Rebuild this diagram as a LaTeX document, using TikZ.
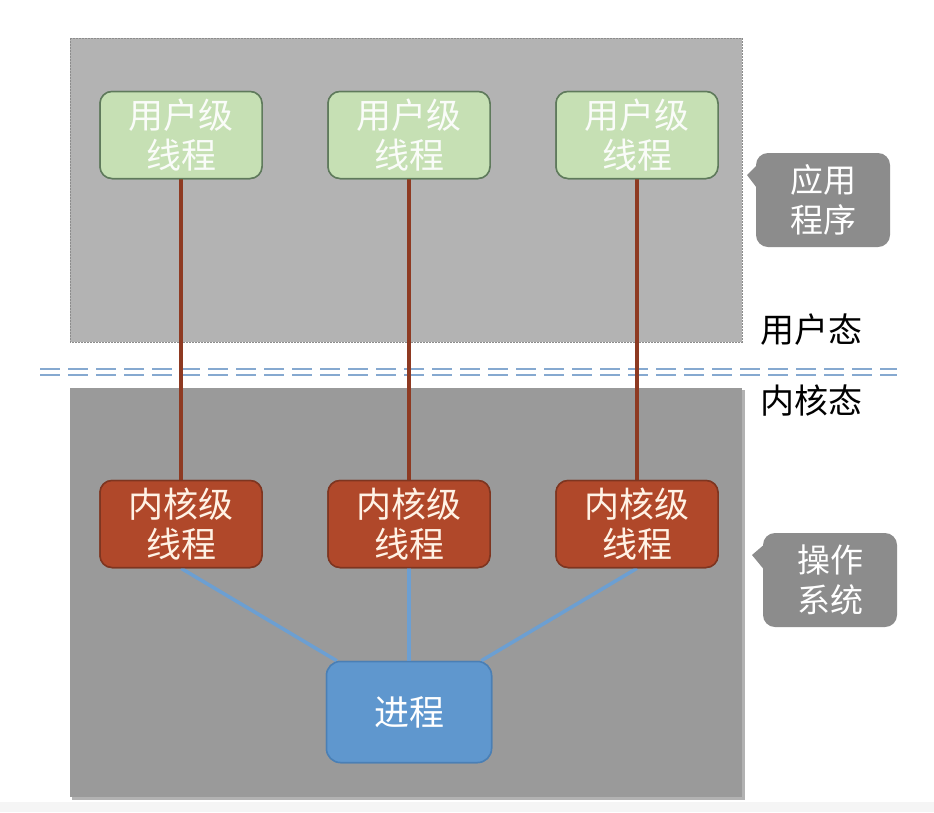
\documentclass[tikz,border=0pt]{standalone}
\usepackage{fontspec}
\setmainfont{Noto Sans CJK SC}
\usetikzlibrary{calc}
\definecolor{upgray}{HTML}{B3B3B3}
\definecolor{lowgray}{HTML}{9A9A9A}
\definecolor{ugreen}{HTML}{C6E0B4}
\definecolor{ugreenb}{HTML}{5F7A5C}
\definecolor{kred}{HTML}{B0482A}
\definecolor{kredb}{HTML}{7E3520}
\definecolor{pblue}{HTML}{5F97CE}
\definecolor{pblueb}{HTML}{4A7FB5}
\definecolor{brownline}{HTML}{8E3A22}
\definecolor{blueline}{HTML}{6C9FD2}
\definecolor{callgray}{HTML}{8C8C8C}
\definecolor{dashblue}{HTML}{86A9D0}
\tikzset{
  thread/.style={rounded corners=12pt, minimum width=162pt, minimum height=87pt,
    align=center, inner sep=0pt, font=\fontsize{35}{40}\selectfont, line width=1.5pt},
  userbox/.style={thread, fill=ugreen, draw=ugreenb, text=white!92!ugreen},
  kernbox/.style={thread, fill=kred, draw=kredb, text=white!90!orange},
  procbox/.style={rounded corners=14pt, minimum width=165pt, minimum height=101pt,
    align=center, fill=pblue, draw=pblueb, line width=1.5pt, text=white,
    font=\fontsize{35}{40}\selectfont},
  callbox/.style={rounded corners=12pt, fill=callgray, text=white, align=center,
    inner sep=0pt, minimum width=134pt, minimum height=94pt,
    font=\fontsize{33}{40}\selectfont},
  modelabel/.style={text=black, font=\fontsize{34}{38}\selectfont, inner sep=0pt},
  uline/.style={brownline, line width=3.5pt},
  kline/.style={blueline, line width=3.5pt},
}
\begin{document}
\begin{tikzpicture}[x=1pt,y=-1pt]
\useasboundingbox (0,0) rectangle (934,812);
\fill[white] (0,0) rectangle (934,812);
\fill[black!4] (0,802) rectangle (934,812);
% regions
\fill[upgray] (70,38) rectangle (742,342);
\draw[black!45, dashed, dash pattern=on 2pt off 1pt, line width=0.8pt] (70,38) rectangle (742,342);
\fill[black!30] (72,390) rectangle (745,800);
\fill[lowgray] (70,388) rectangle (742,797);
% dashed separator
\coordinate (dl) at (40,369);
\coordinate (dr) at (897,369);
\draw[dashblue, line width=2.4pt, dash pattern=on 20pt off 8pt] (dl) -- (dr);
\draw[dashblue, line width=2.4pt, dash pattern=on 20pt off 8pt] ($(dl)+(0,6)$) -- ($(dr)+(0,6)$);
% user threads
\node[userbox] (u1) at (181,135) {用户级\\线程};
\node[userbox] (u2) at (409,135) {用户级\\线程};
\node[userbox] (u3) at (637,135) {用户级\\线程};
% kernel threads
\node[kernbox] (k1) at (181,524) {内核级\\线程};
\node[kernbox] (k2) at (409,524) {内核级\\线程};
\node[kernbox] (k3) at (637,524) {内核级\\线程};
% process
\node[procbox] (p) at (409,712) {进程};
% connectors
\draw[uline] (u1.south) -- (k1.north);
\draw[uline] (u2.south) -- (k2.north);
\draw[uline] (u3.south) -- (k3.north);
\draw[kline] (k1.south) -- ($(p.north west)+(11,0)$);
\draw[kline] (k2.south) -- (p.north);
\draw[kline] (k3.south) -- ($(p.north east)+(-11,0)$);
% redraw boxes over line ends
\node[userbox] at (u1) {用户级\\线程};
\node[userbox] at (u2) {用户级\\线程};
\node[userbox] at (u3) {用户级\\线程};
\node[kernbox] at (k1) {内核级\\线程};
\node[kernbox] at (k2) {内核级\\线程};
\node[kernbox] at (k3) {内核级\\线程};
\node[procbox] at (p) {进程};
% callouts
\fill[callgray] (747,175) -- (760,162) -- (760,192) -- cycle;
\node[callbox] (app) at (823,200) {应用\\程序};
\fill[callgray] (752,555) -- (766,543) -- (766,572) -- cycle;
\node[callbox] (os) at (830,580) {操作\\系统};
% mode labels
\node[modelabel] (um) at (811,330) {用户态};
\node[modelabel] (km) at (811,401) {内核态};
\end{tikzpicture}
\end{document}
